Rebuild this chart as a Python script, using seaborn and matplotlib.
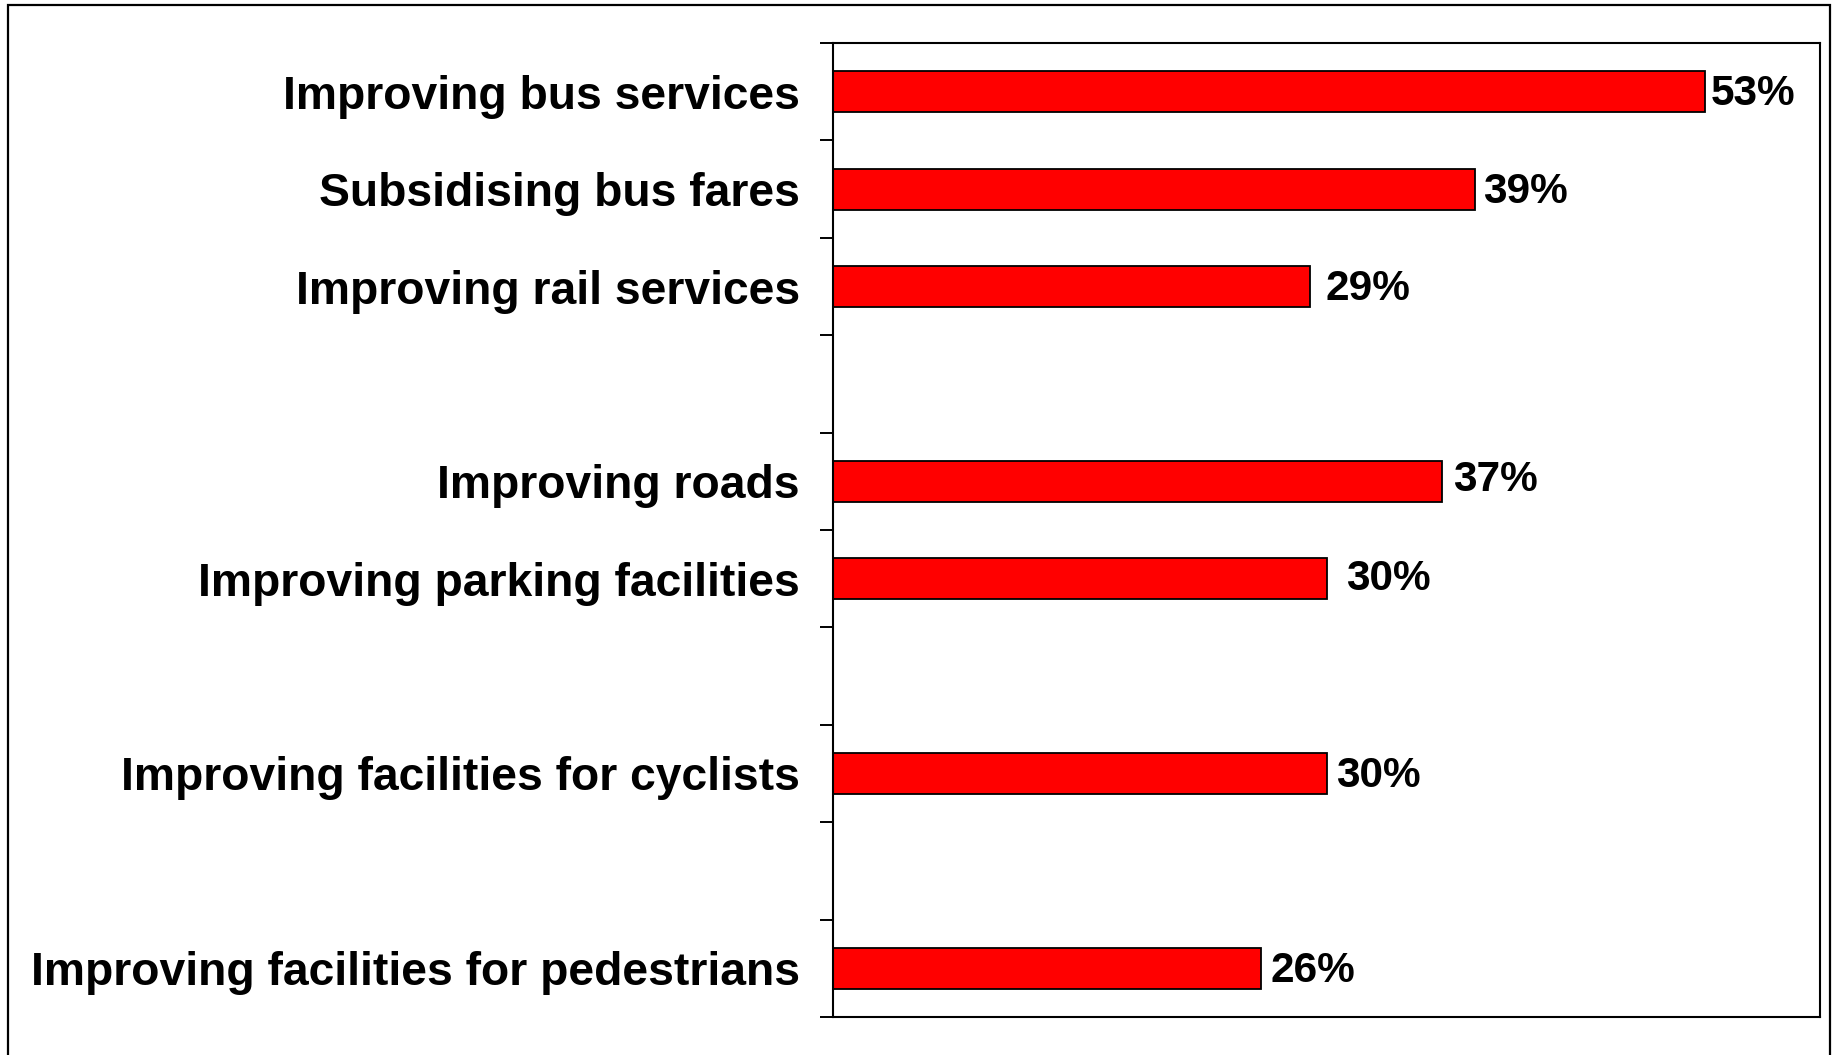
import matplotlib
matplotlib.use("Agg")
import matplotlib.pyplot as plt
import seaborn as sns
import pandas as pd
from matplotlib.patches import Rectangle
from matplotlib.ticker import FixedLocator

# data (blank entries are the empty gaps between groups)
slots = ["Improving bus services", "Subsidising bus fares", "Improving rail services", " ",
         "Improving roads", "Improving parking facilities", "  ",
         "Improving facilities for cyclists", "   ",
         "Improving facilities for pedestrians"]
measures = ["Improving bus services", "Subsidising bus fares", "Improving rail services",
            "Improving roads", "Improving parking facilities",
            "Improving facilities for cyclists", "Improving facilities for pedestrians"]
shares = [53, 39, 29, 37, 30, 30, 26]
value_labels = ["53%", "39%", "29%", "37%", "30%", "30%", "26%"]

# label nudges (points) - the original labels were placed by hand
label_dx = [4, 6, 11, 8, 14, 7, 7]
label_dy = [-2, -2, -2, 1, 0, -2, -2]

sns.set_style("white")
plt.rcParams["font.family"] = ["Liberation Sans", "DejaVu Sans"]

df = pd.DataFrame({"measure": measures, "share": shares})

fig = plt.figure(figsize=(18.34, 10.55), dpi=100)
ax = fig.add_axes([833 / 1834, 1 - 1017 / 1055, (1820 - 833) / 1834, (1017 - 43) / 1055])

sns.barplot(data=df, x="share", y="measure", order=slots, orient="h",
            color="#ff0000", saturation=1, width=0.42,
            edgecolor="black", linewidth=1.3, ax=ax)

ax.set_xlim(0, 60)
ax.set_ylim(len(slots) - 0.5, -0.5)
ax.set_xlabel("")
ax.set_ylabel("")
ax.set_xticks([])

ax.set_yticks(range(len(slots)))
ax.set_yticklabels([s.strip() for s in slots], fontsize=33.3, fontweight="bold", color="black")
ax.tick_params(axis="y", which="major", length=0, pad=24)
ax.yaxis.set_minor_locator(FixedLocator([i - 0.5 for i in range(len(slots) + 1)]))
ax.tick_params(axis="y", which="minor", length=9.5, width=1.4, color="black", direction="out", left=True)

for sp in ax.spines.values():
    sp.set_visible(True)
    sp.set_color("black")
    sp.set_linewidth(1.5)

for i, m in enumerate(measures):
    ax.annotate(value_labels[i], xy=(shares[i], slots.index(m)),
                xytext=(label_dx[i], label_dy[i]), textcoords="offset points",
                ha="left", va="center", fontsize=30.5, fontweight="bold", color="black")

# outer frame around the whole chart
fig.patches.append(Rectangle((8 / 1834, -0.02), (1830 - 8) / 1834, 1 - 5 / 1055 + 0.02,
                             transform=fig.transFigure, fill=False,
                             edgecolor="black", linewidth=1.6))

fig.savefig("out.png", dpi=100)
